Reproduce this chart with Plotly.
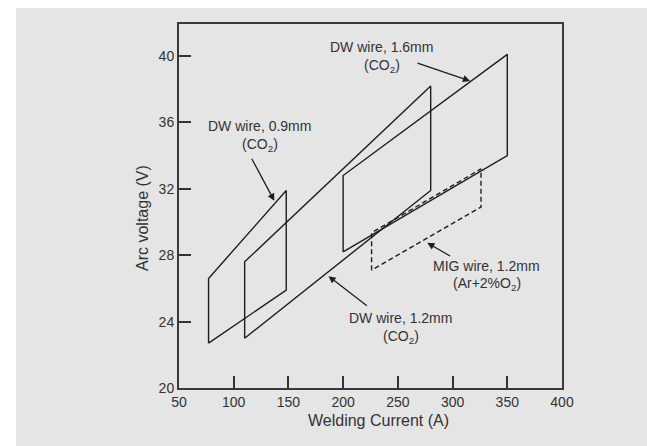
import plotly.graph_objects as go

# ---- data ----
dw09_current = [77, 77, 148, 148, 77]
dw09_voltage = [22.7, 26.6, 31.9, 25.9, 22.7]

dw12_current = [110, 110, 280, 280, 110]
dw12_voltage = [23.0, 27.6, 38.2, 31.9, 23.0]

dw16_current = [200, 200, 350, 350, 200]
dw16_voltage = [28.2, 32.8, 40.1, 34.0, 28.2]

mig12_current = [226, 226, 326, 326, 226]
mig12_voltage = [27.1, 29.35, 33.2, 30.9, 27.1]

x_ticks = [50, 100, 150, 200, 250, 300, 350, 400]
y_ticks = [20, 24, 28, 32, 36, 40]

# label text lines and their anchor positions (data units)
labels = [
    ("DW wire, 1.6mm", 235.3, 40.53), ("(CO<sub>2</sub>)", 235.3, 39.42),
    ("DW wire, 0.9mm", 123.9, 35.78), ("(CO<sub>2</sub>)", 123.9, 34.64),
    ("MIG wire, 1.2mm", 331.3, 27.37), ("(Ar+2%O<sub>2</sub>)", 331.3, 26.24),
    ("DW wire, 1.2mm", 252.7, 24.19), ("(CO<sub>2</sub>)", 252.7, 23.08),
]
# arrows: (head x, head y, tail x, tail y)
arrows = [
    (316.0, 38.5, 266.6, 39.6),
    (137.1, 31.28, 115.8, 33.9),
    (276.9, 28.75, 299.1, 27.9),
    (186.6, 26.74, 223.1, 24.89),
]

LINE = "#1e1e1e"
TXT = "#333333"
GRAY = "#e5e5e5"
FONT = "Liberation Sans, Arial, sans-serif"

W, H = 647, 446
ML, MT, PW, PH = 179, 24, 383, 364

fig = go.Figure()
for xs, ys, dash in [
    (dw09_current, dw09_voltage, "solid"),
    (dw12_current, dw12_voltage, "solid"),
    (dw16_current, dw16_voltage, "solid"),
    (mig12_current, mig12_voltage, "5px,3px"),
]:
    fig.add_trace(go.Scatter(x=xs, y=ys, mode="lines",
                             line=dict(color=LINE, width=1.4, dash=dash),
                             showlegend=False, hoverinfo="skip"))

annotations = []
for text, x, y in labels:
    annotations.append(dict(x=x, y=y, xref="x", yref="y", text=text,
                            showarrow=False, font=dict(size=14, color=TXT, family=FONT),
                            xanchor="center", yanchor="middle"))
for hx, hy, tx, ty in arrows:
    annotations.append(dict(x=hx, y=hy, xref="x", yref="y", ax=tx, ay=ty,
                            axref="x", ayref="y", text="", showarrow=True,
                            arrowhead=2, arrowsize=1.1, arrowwidth=1.3,
                            arrowcolor=LINE, standoff=0, startstandoff=0))
annotations.append(dict(x=0.52, y=-0.088, xref="paper", yref="paper",
                        text="Welding Current (A)", showarrow=False,
                        font=dict(size=16, color=TXT, family=FONT),
                        xanchor="center", yanchor="middle"))
annotations.append(dict(x=-0.0966, y=0.467, xref="paper", yref="paper",
                        text="Arc voltage (V)", showarrow=False, textangle=-90,
                        font=dict(size=16, color=TXT, family=FONT),
                        xanchor="center", yanchor="middle"))

# white frame strips (top and left); everything else is the gray panel
top_y = (MT + PH - 8) / PH
strips = [
    dict(type="rect", xref="paper", yref="paper",
         x0=-ML / PW - 0.05, x1=(W - ML) / PW + 0.05, y0=top_y, y1=(MT + PH) / PH + 0.05,
         fillcolor="white", line=dict(width=0), layer="below"),
    dict(type="rect", xref="paper", yref="paper",
         x0=-ML / PW - 0.05, x1=(16 - ML) / PW, y0=-(H - MT - PH) / PH - 0.05, y1=top_y + 0.05,
         fillcolor="white", line=dict(width=0), layer="below"),
]

fig.update_layout(
    width=W, height=H,
    margin=dict(l=ML, r=W - ML - PW, t=MT, b=H - MT - PH),
    paper_bgcolor=GRAY,
    plot_bgcolor=GRAY,
    font=dict(family=FONT, color=TXT, size=14),
    annotations=annotations,
    shapes=strips,
)
fig.update_xaxes(range=[50, 400], tickvals=x_ticks, ticks="inside", ticklen=12,
                 tickwidth=1.5, tickcolor="#333", showline=True, mirror=True,
                 linecolor="#3a3a3a", linewidth=2, showgrid=False, zeroline=False,
                 tickfont=dict(size=14, color=TXT, family=FONT))
fig.update_yaxes(range=[20, 41.93], tickvals=y_ticks, ticks="inside", ticklen=12,
                 tickwidth=1.5, tickcolor="#333", showline=True, mirror=True,
                 linecolor="#3a3a3a", linewidth=2, showgrid=False, zeroline=False,
                 tickfont=dict(size=14, color=TXT, family=FONT))

fig.write_html(
    "out.html",
    config={"displayModeBar": False},
    default_width="647px",
    default_height="446px",
    post_script="document.body.style.margin='0';document.body.style.overflow='hidden';"
                "document.documentElement.style.overflow='hidden';"
                "document.body.style.background='" + GRAY + "';"
                "document.documentElement.style.background='" + GRAY + "';",
)
